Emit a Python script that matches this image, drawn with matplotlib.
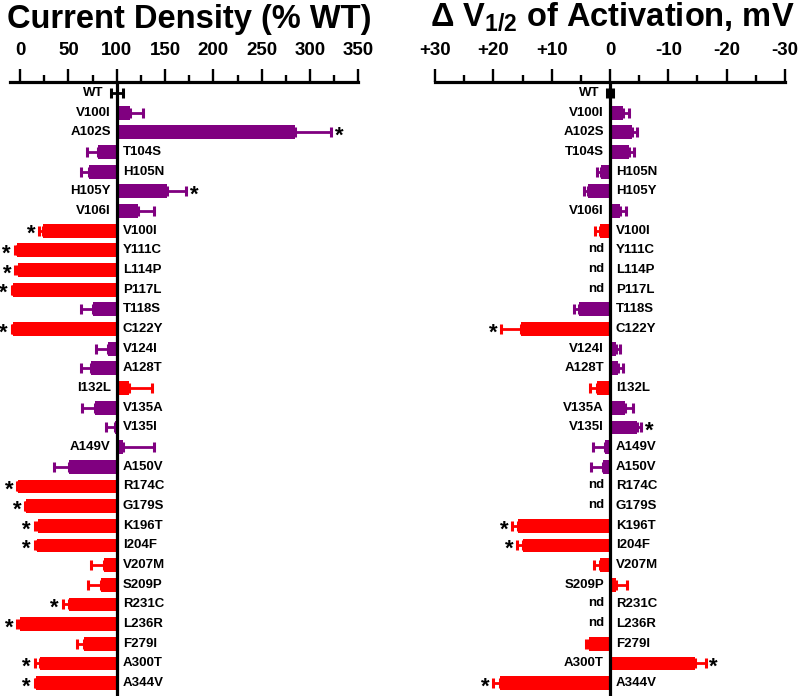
import matplotlib
matplotlib.use("Agg")
import matplotlib.pyplot as plt
import matplotlib.transforms as mtransforms
import numpy as np

plt.rcParams["font.family"] = ["Liberation Sans", "DejaVu Sans"]
plt.rcParams["font.weight"] = "bold"
plt.rcParams["mathtext.fontset"] = "custom"
plt.rcParams["mathtext.rm"] = "Liberation Sans:bold"
plt.rcParams["mathtext.default"] = "rm"

PURPLE = "#800080"
RED = "#FF0000"

# ---------------------------------------------------------------------------
# Data
# ---------------------------------------------------------------------------
mutants = ["WT", "V100I", "A102S", "T104S", "H105N", "H105Y", "V106I",
           "V100I", "Y111C", "L114P", "P117L", "T118S", "C122Y", "V124I",
           "A128T", "I132L", "V135A", "V135I", "A149V", "A150V", "R174C",
           "G179S", "K196T", "I204F", "V207M", "S209P", "R231C", "L236R",
           "F279I", "A300T", "A344V"]
group = ["wt", "p", "p", "p", "p", "p", "p",
         "r", "r", "r", "r", "p", "r", "p",
         "p", "r", "p", "p", "p", "p", "r",
         "r", "r", "r", "r", "r", "r", "r",
         "r", "r", "r"]

# current density, % of WT
density = [100, 114, 284, 81, 71, 152, 122,
           24, -3, -2.5, -7, 75, -7, 91,
           73, 113, 78, 98.5, 107, 51, -2,
           6, 19, 18, 87, 84, 51, 0,
           66, 21, 17]
density_err = [6, 13, 38, 12, 8, 20, 17,
               4, 2.5, 2.5, 1.5, 12, 1.5, 12,
               10, 23, 14, 9.5, 32, 16, 1,
               1, 4, 3, 14, 14, 7, 3,
               7, 6, 2]
density_sig = ["A102S", "H105Y", 7, "Y111C", "L114P", "P117L", "C122Y",
               "R174C", "G179S", "K196T", "I204F", "R231C", "L236R",
               "A300T", "A344V"]

# shift of V1/2 of activation, mV (nan = not determined)
nan = np.nan
dv = [0, -2.3, -3.8, -3.2, 1.6, 3.8, -1.7,
      1.8, nan, nan, nan, 5.3, 15.2, -1.0,
      -1.4, 2.2, -2.6, -4.6, 0.9, 1.2, nan,
      nan, 15.8, 14.9, 1.8, -1.0, nan, nan,
      3.6, -14.5, 18.9]
dv_err = [0.6, 0.9, 0.9, 0.9, 0.7, 0.7, 1.1,
          0.7, nan, nan, nan, 0.9, 3.5, 0.8,
          0.9, 1.2, 1.4, 0.7, 2.0, 2.1, nan,
          nan, 1.0, 1.0, 1.0, 2.0, nan, nan,
          0.6, 1.9, 1.1]
dv_sig = ["C122Y", "V135I", "K196T", "I204F", "A300T", "A344V"]

density_ticks = [0, 50, 100, 150, 200, 250, 300, 350]
dv_ticks = [30, 20, 10, 0, -10, -20, -30]
dv_ticklabels = ["+30", "+20", "+10", "0", "-10", "-20", "-30"]

COLORS = {"wt": "black", "p": PURPLE, "r": RED}
LABEL_SIZE = 9.5


def sig_index(sig):
    idx = set()
    for s in sig:
        if isinstance(s, int):
            idx.add(s)
        else:
            idx.add(mutants.index(s))
    return idx


def draw_panel(fig, ax, values, errs, sig, base, sgn):
    """sgn = +1 when data grows to the right, -1 when the axis is reversed."""
    n = len(mutants)
    y = np.arange(n)
    stars = sig_index(sig)

    def off(dx, dy=0):
        return mtransforms.offset_copy(ax.transData, fig=fig, x=dx, y=dy,
                                       units="dots")

    for i in range(n):
        v, e = values[i], errs[i]
        col = COLORS[group[i]]
        if np.isnan(v):
            ax.text(base, y[i], "nd", transform=off(-6, 1),
                    ha="right", va="center", fontsize=LABEL_SIZE)
            ax.text(base, y[i], mutants[i], transform=off(6),
                    ha="left", va="center", fontsize=LABEL_SIZE)
            continue
        right = (v - base) * sgn > 0
        if v == base:
            xerr = [[e], [e]]
        elif v > base:
            xerr = [[0], [e]]
        else:
            xerr = [[e], [0]]
        ax.errorbar(v, y[i], xerr=xerr, fmt="none", ecolor=col,
                    elinewidth=2.0, capsize=3.8, capthick=2.2, zorder=2)
        if v != base:
            ax.barh(y[i], v - base, left=base, height=0.7, color=col,
                    linewidth=0, zorder=3)
        # mutant label on the opposite side of the bar
        if v == base:
            ax.text(base - sgn * e, y[i], mutants[i], transform=off(-7),
                    ha="right", va="center", fontsize=LABEL_SIZE)
        elif right:
            ax.text(base, y[i], mutants[i], transform=off(-6),
                    ha="right", va="center", fontsize=LABEL_SIZE)
        else:
            ax.text(base, y[i], mutants[i], transform=off(6),
                    ha="left", va="center", fontsize=LABEL_SIZE)
        if i in stars:
            tip = v + e if v > base else v - e
            dx = 8 if right else -8
            ax.text(tip, y[i], "*", transform=off(dx, -4),
                    ha="center", va="center", fontsize=16)

    ax.axvline(base, color="black", linewidth=2.3, zorder=4)


fig = plt.figure(figsize=(8, 6.96), dpi=100)
H = 696.0
ax_top = 81.7
row0, row_step = 93.0, 19.67
ylim = ((H - row0) / row_step, (ax_top - row0) / row_step)
axes_rect_h = (H - ax_top) / H

# left panel: current density
ax1 = fig.add_axes([0, 0, 0.5, axes_rect_h])
ax1.set_xlim((0 - 20) / 0.967, (400 - 20) / 0.967)
ax1.set_ylim(*ylim)
draw_panel(fig, ax1, density, density_err, density_sig, 100, 1)
ax1.set_xticks(density_ticks)
ax1.set_xticks(np.arange(0, 351, 25), minor=True)
ax1.spines["top"].set_bounds(-10.3, 350)

# right panel: delta V1/2
ax2 = fig.add_axes([0.5, 0, 0.5, axes_rect_h])
ax2.set_xlim((610 - 400) / 5.833, -(800 - 610) / 5.833)
ax2.set_ylim(*ylim)
draw_panel(fig, ax2, dv, dv_err, dv_sig, 0, -1)
ax2.set_xticks(dv_ticks, dv_ticklabels)
ax2.set_xticks(np.arange(-30, 31, 5), minor=True)
ax2.spines["top"].set_bounds(-30, 30)

for ax in (ax1, ax2):
    for side in ("left", "right", "bottom"):
        ax.spines[side].set_visible(False)
    ax.spines["top"].set_linewidth(2.3)
    ax.xaxis.tick_top()
    ax.set_yticks([])
    ax.tick_params(axis="x", which="major", direction="out", length=9.5,
                   width=1.7, pad=7, labelsize=13.5)
    ax.tick_params(axis="x", which="minor", direction="out", length=5,
                   width=1.7)
    ax.patch.set_visible(False)
    for lab in ax.get_xticklabels():
        lab.set_fontweight("bold")

fig.text(189 / 800, 1 - 28 / H, "Current Density (% WT)", ha="center",
         va="baseline", fontsize=23.5, fontweight="bold")
fig.text(430 / 800, 1 - 26 / H, "\u0394 V$_{1/2}$ of Activation, mV",
         ha="left", va="baseline", fontsize=23.5, fontweight="bold")

fig.savefig("out.png", dpi=100)
